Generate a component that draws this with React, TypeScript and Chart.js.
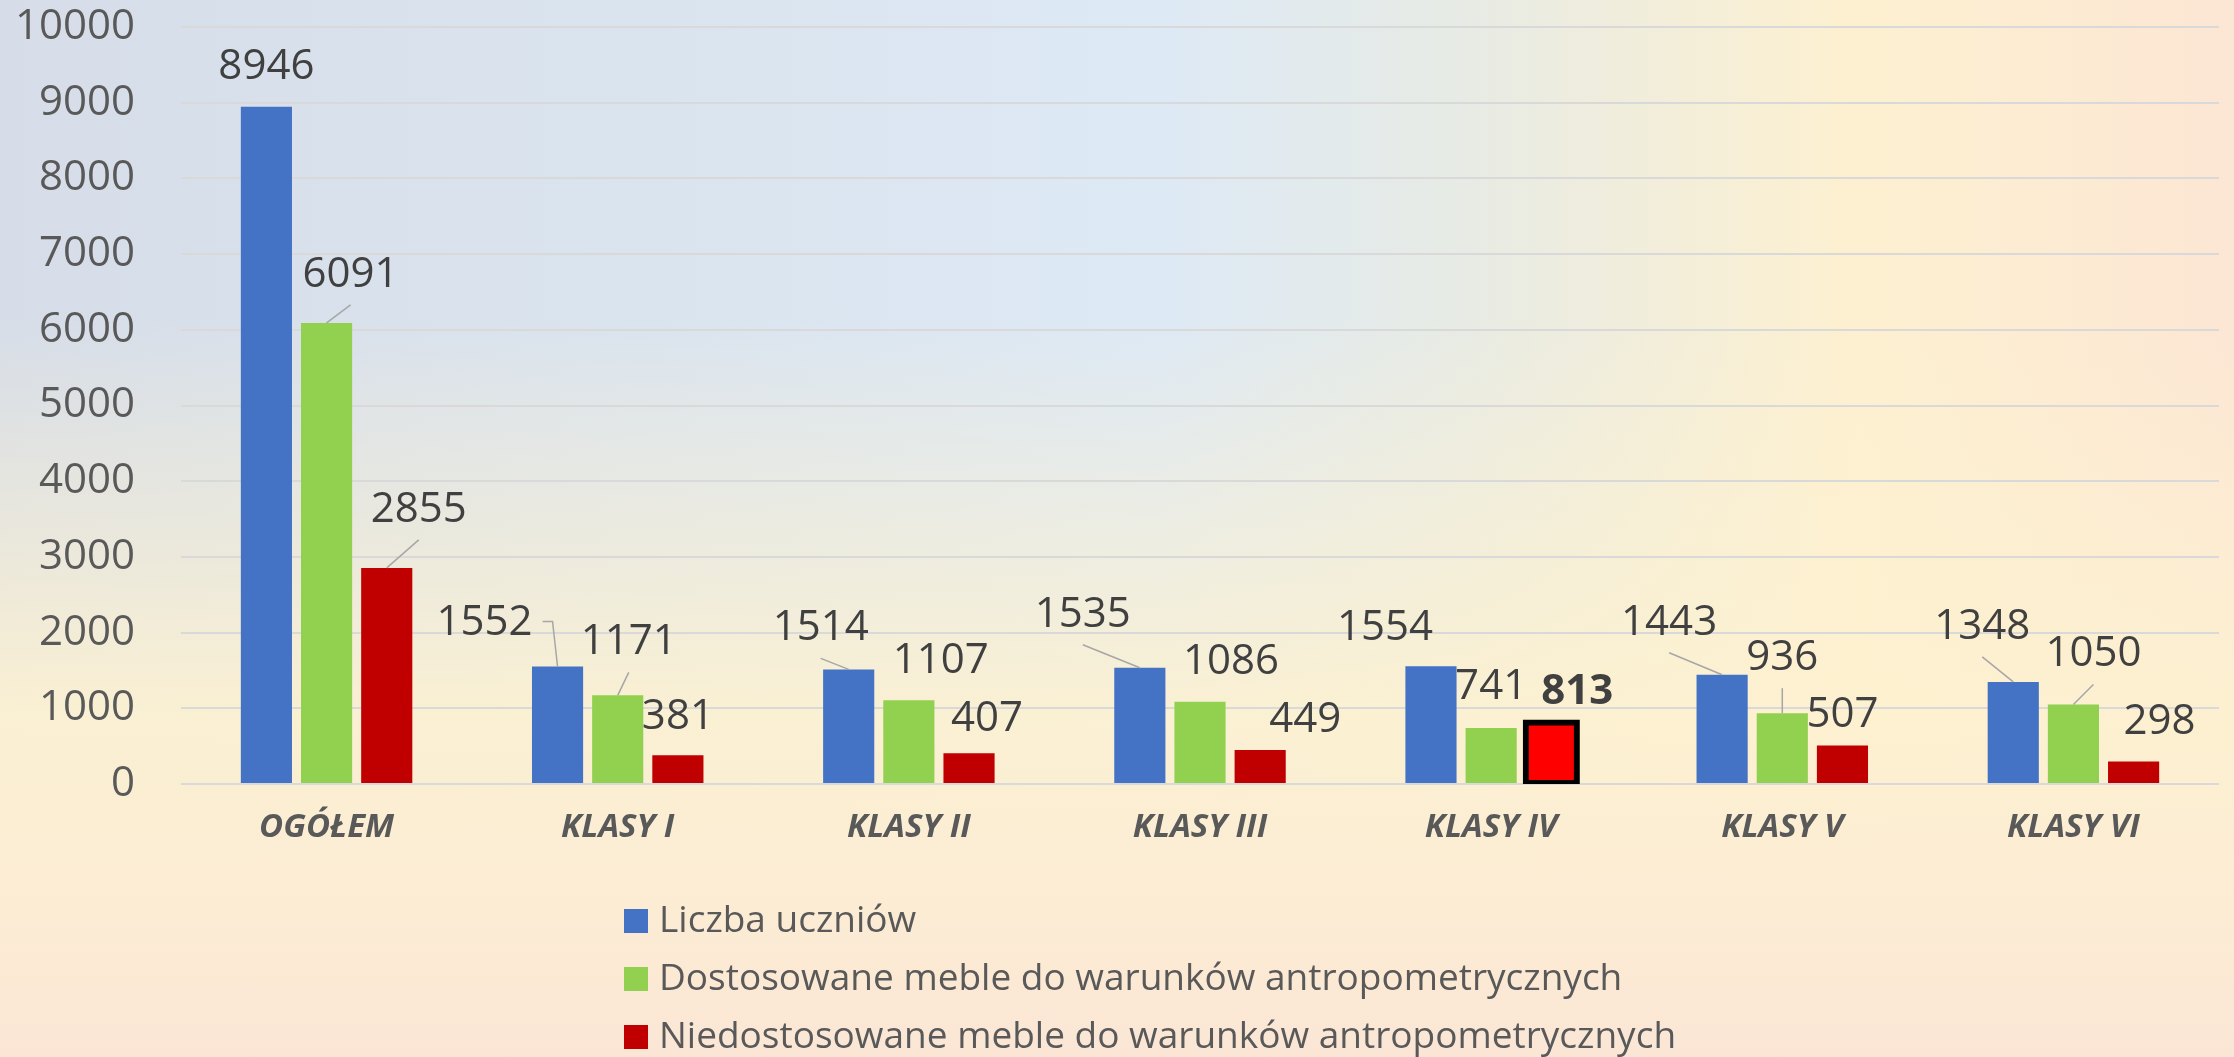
import React, { useEffect, useRef } from 'react';
import { Chart, registerables } from 'chart.js';

Chart.register(...registerables);

const categories = ['OGÓŁEM', 'KLASY I', 'KLASY II', 'KLASY III', 'KLASY IV', 'KLASY V', 'KLASY VI'];
const seriesNames = [
  'Liczba uczniów',
  'Dostosowane meble do warunków antropometrycznych',
  'Niedostosowane meble do warunków antropometrycznych',
];
const liczbaUczniow = [8946, 1552, 1514, 1535, 1554, 1443, 1348];
const dostosowane = [6091, 1171, 1107, 1086, 741, 936, 1050];
const niedostosowane = [2855, 381, 407, 449, 813, 507, 298];
const yMin = 0;
const yMax = 10000;
const yStep = 1000;

// label placement (offset of label centre from top-centre of bar), per series / category
const labelOffsets = [
  [[0, -40], [-73, -43], [-28, -41], [-57, -53], [-46, -38], [-53, -52], [-31, -55]],
  [[24, -48], [11, -53], [32, -39], [31, -40], [0, -41], [0, -55], [20, -50]],
  [[32, -58], [0, -38], [18, -34], [45, -30], [26, -30], [0, -31], [26, -39]],
];
const leaderKinds = [
  ['', 'right', 'bottom', 'bottom', '', 'bottom', 'bottom'],
  ['bottom', 'bottom', '', '', '', 'bottom', 'bottom'],
  ['bottom', '', '', '', '', '', ''],
];
const boldLabel = [
  [false, false, false, false, false, false, false],
  [false, false, false, false, false, false, false],
  [false, false, false, false, true, false, false],
];

const FONT = "'Open Sans', 'Noto Sans', sans-serif";

const dataLabelPlugin = {
  id: 'dataLabels',
  afterDatasetsDraw(chart: any) {
    const ctx = chart.ctx;
    ctx.save();
    chart.data.datasets.forEach((ds: any, di: number) => {
      const meta = chart.getDatasetMeta(di);
      meta.data.forEach((el: any, i: number) => {
        const [dx, dy] = labelOffsets[di][i];
        const lx = el.x + dx;
        const ly = el.y + dy;
        const bold = boldLabel[di][i];
        ctx.font = `${bold ? 'bold ' : ''}42px ${FONT}`;
        const text = String(ds.data[i]);
        const w = ctx.measureText(text).width;
        const kind = leaderKinds[di][i];
        ctx.strokeStyle = '#a6a6a6';
        ctx.lineWidth = 1.5;
        if (kind === 'bottom') {
          ctx.beginPath();
          ctx.moveTo(lx, ly + 30);
          ctx.lineTo(el.x, el.y);
          ctx.stroke();
        } else if (kind === 'right') {
          ctx.beginPath();
          ctx.moveTo(lx + w / 2 + 10, ly - 2);
          ctx.lineTo(el.x - 5, ly - 2);
          ctx.lineTo(el.x, el.y);
          ctx.stroke();
        }
        ctx.fillStyle = '#404040';
        ctx.textAlign = 'center';
        ctx.textBaseline = 'middle';
        ctx.fillText(text, lx, ly);
      });
    });
    ctx.restore();
  },
};

const legendPlugin = {
  id: 'verticalLegend',
  afterDraw(chart: any) {
    const ctx = chart.ctx;
    const bottom = chart.chartArea.bottom;
    ctx.save();
    chart.data.datasets.forEach((ds: any, i: number) => {
      const cy = bottom + 137 + i * 58;
      const bx = 624;
      ctx.fillStyle = ds.legendColor;
      ctx.fillRect(bx, cy - 12, 24, 24);
      ctx.fillStyle = '#595959';
      ctx.font = `37px ${FONT}`;
      ctx.textAlign = 'left';
      ctx.textBaseline = 'middle';
      ctx.fillText(ds.label, bx + 35, cy);
    });
    ctx.restore();
  },
};

export default function App() {
  const canvasRef = useRef<HTMLCanvasElement | null>(null);

  useEffect(() => {
    document.body.style.margin = '0';
    const canvas = canvasRef.current;
    if (!canvas) return;
    Chart.defaults.font.family = FONT;
    const redColors = niedostosowane.map((_, i) => (i === 4 ? '#ff0000' : '#c00000'));
    const redBorderW = niedostosowane.map((_, i) => (i === 4 ? 6 : 0));
    const redInflate = niedostosowane.map((_, i) => (i === 4 ? 3 : 0));
    const chart = new Chart(canvas, {
      type: 'bar',
      data: {
        labels: categories,
        datasets: [
          { label: seriesNames[0], data: liczbaUczniow, backgroundColor: '#4472c4', legendColor: '#4472c4', borderWidth: 0 } as any,
          { label: seriesNames[1], data: dostosowane, backgroundColor: '#92d050', legendColor: '#92d050', borderWidth: 0 } as any,
          {
            label: seriesNames[2],
            data: niedostosowane,
            backgroundColor: redColors,
            legendColor: '#c00000',
            borderColor: '#000000',
            borderWidth: redBorderW,
            borderSkipped: false,
            inflateAmount: redInflate,
          } as any,
        ],
      },
      options: {
        responsive: false,
        maintainAspectRatio: false,
        devicePixelRatio: 1,
        animation: false,
        categoryPercentage: 0.62,
        barPercentage: 0.85,
        layout: { padding: { left: 0, right: 15, top: 27, bottom: 0 } },
        plugins: {
          legend: { display: false },
          tooltip: { enabled: false },
        },
        scales: {
          x: {
            grid: { display: false },
            border: { display: false },
            ticks: {
              color: '#595959',
              font: { family: FONT, size: 33, weight: 'bold', style: 'italic' },
              padding: 16,
              maxRotation: 0,
            },
            afterFit: (scale: any) => {
              scale.height = 273;
            },
          },
          y: {
            min: yMin,
            max: yMax,
            grid: { color: '#d9d9d9', lineWidth: 2, drawTicks: false },
            border: { display: false },
            ticks: {
              stepSize: yStep,
              color: '#595959',
              font: { family: FONT, size: 42 },
              padding: 46,
              callback: (v: any) => String(v),
            },
            afterFit: (scale: any) => {
              scale.width = 181;
              scale.paddingTop = 0;
              scale.paddingBottom = 0;
            },
          },
        },
      } as any,
      plugins: [dataLabelPlugin, legendPlugin],
    });
    return () => chart.destroy();
  }, []);

  return (
    <div
      style={{
        position: 'absolute',
        left: 0,
        top: 0,
        width: 2234,
        height: 1057,
        background:
          'linear-gradient(to bottom, rgba(253,241,208,0) 0%, rgba(253,241,208,0) 30%, rgba(253,241,208,0.92) 68%, rgba(252,236,212,1) 86%, rgba(251,230,213,1) 100%), linear-gradient(to right, #d6dde8 0%, #dae4ef 30%, #dde9f5 52%, #e8ebe4 66%, #fdf0d0 83%, #fce6d4 100%)',
      }}
    >
      <canvas ref={canvasRef} width={2234} height={1057} style={{ display: 'block', width: 2234, height: 1057 }} />
    </div>
  );
}
